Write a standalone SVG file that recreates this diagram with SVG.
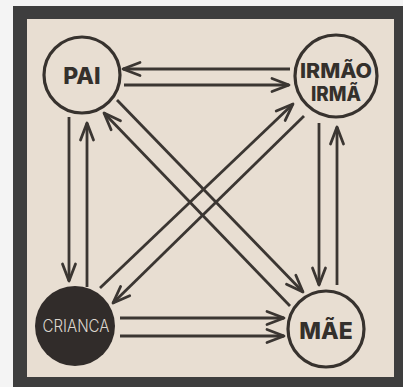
<svg xmlns="http://www.w3.org/2000/svg" width="403" height="387" viewBox="0 0 403 387">
<style>
.ring{fill:none;stroke:#37322e;stroke-width:3.2}
.lbl{font-family:Inter,"DejaVu Sans",sans-serif;font-weight:800;fill:#34302c;text-anchor:middle}
.cn{stroke:#3b3632;stroke-width:2.8;fill:none;marker-end:url(#ah)}
</style>
<defs>
<marker id="ah" markerUnits="userSpaceOnUse" orient="auto" overflow="visible" refX="0" refY="0" markerWidth="1" markerHeight="1">
<path d="M-17,-6.5 L0,0 L-17,6.5" fill="none" stroke="#3b3632" stroke-width="2.8" stroke-linecap="round" stroke-linejoin="round"/>
</marker>
</defs>
<rect x="0" y="0" width="403" height="387" fill="#f4f4f4"/>
<rect x="13" y="6" width="390" height="381" fill="#3e3e3e"/>
<rect x="27" y="19" width="367" height="358" fill="#e8ded2"/>
<g id="connectors">
<path class="cn" d="M290,69 L123,69"/>
<path class="cn" d="M124,85 L289,85"/>
<path class="cn" d="M69,117 L69,281"/>
<path class="cn" d="M87,287 L87,123"/>
<path class="cn" d="M319,123 L319,285"/>
<path class="cn" d="M337,285 L337,127"/>
<path class="cn" d="M120,318 L284,318"/>
<path class="cn" d="M120,336 L284,336"/>
<path class="cn" d="M117,100 L303,292"/>
<path class="cn" d="M290,306 L104,113"/>
<path class="cn" d="M100,288 L293,104"/>
<path class="cn" d="M304,116 L113,303"/>
</g>
<g id="pai">
<circle class="ring" cx="82" cy="75" r="38"/>
<text class="lbl" x="82" y="84" font-size="23">PAI</text>
</g>
<g id="irmao">
<circle class="ring" cx="336" cy="76" r="41"/>
<text class="lbl" x="336" y="78" font-size="20" textLength="72" lengthAdjust="spacingAndGlyphs">IRMÃO</text>
<text class="lbl" x="336" y="101" font-size="20" textLength="50" lengthAdjust="spacingAndGlyphs">IRMÃ</text>
</g>
<g id="crianca">
<circle cx="75" cy="326" r="40" fill="#312c2a"/>
<text x="76" y="332" font-family="Inter,'DejaVu Sans',sans-serif" font-weight="300" font-size="17" fill="#dcd6cf" text-anchor="middle" textLength="67" lengthAdjust="spacingAndGlyphs">CRIANCA</text>
</g>
<g id="mae">
<circle class="ring" cx="326" cy="329" r="38"/>
<text class="lbl" x="326" y="339" font-size="23">MÃE</text>
</g>
</svg>
